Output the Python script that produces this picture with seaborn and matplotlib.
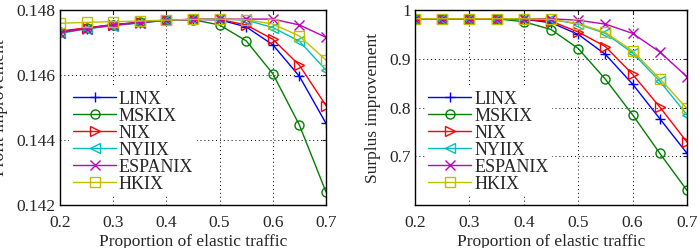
import numpy as np
import pandas as pd
import matplotlib
matplotlib.use("Agg")
import matplotlib.pyplot as plt
import seaborn as sns

x = [0.2, 0.25, 0.3, 0.35, 0.4, 0.45, 0.5, 0.55, 0.6, 0.65, 0.7]
series = ["LINX", "MSKIX", "NIX", "NYIIX", "ESPANIX", "HKIX"]

profit_linx    = [0.14733, 0.14743, 0.14754, 0.14761, 0.14769, 0.14771, 0.14770, 0.14748, 0.14693, 0.14596, 0.14451]
profit_mskix   = [0.14733, 0.14744, 0.14755, 0.14762, 0.14769, 0.14770, 0.14754, 0.14705, 0.14604, 0.14446, 0.14240]
profit_nix     = [0.14735, 0.14745, 0.14755, 0.14762, 0.14769, 0.14771, 0.14771, 0.14754, 0.14710, 0.14630, 0.14506]
profit_nyiix   = [0.14728, 0.14742, 0.14752, 0.14760, 0.14768, 0.14771, 0.14772, 0.14769, 0.14746, 0.14704, 0.14615]
profit_espanix = [0.14730, 0.14743, 0.14753, 0.14761, 0.14769, 0.14771, 0.14772, 0.14772, 0.14772, 0.14754, 0.14716]
profit_hkix    = [0.14759, 0.14762, 0.14764, 0.14766, 0.14769, 0.14771, 0.14772, 0.14770, 0.14757, 0.14720, 0.14646]

surplus_linx    = [0.982, 0.982, 0.982, 0.982, 0.981, 0.974, 0.950, 0.909, 0.848, 0.777, 0.706]
surplus_mskix   = [0.982, 0.982, 0.982, 0.982, 0.976, 0.960, 0.921, 0.858, 0.785, 0.706, 0.630]
surplus_nix     = [0.982, 0.982, 0.982, 0.982, 0.981, 0.977, 0.955, 0.925, 0.868, 0.801, 0.729]
surplus_nyiix   = [0.982, 0.982, 0.982, 0.982, 0.982, 0.981, 0.971, 0.952, 0.912, 0.854, 0.785]
surplus_espanix = [0.982, 0.982, 0.982, 0.982, 0.982, 0.982, 0.979, 0.971, 0.952, 0.914, 0.863]
surplus_hkix    = [0.982, 0.982, 0.982, 0.982, 0.982, 0.981, 0.972, 0.954, 0.916, 0.859, 0.798]

profit = [profit_linx, profit_mskix, profit_nix, profit_nyiix, profit_espanix, profit_hkix]
surplus = [surplus_linx, surplus_mskix, surplus_nix, surplus_nyiix, surplus_espanix, surplus_hkix]

colors = ["#0000ff", "#008000", "#ff0000", "#00bfbf", "#bf00bf", "#bfbf00"]
markers = ["+", "o", ">", "<", "x", "s"]

sns.set_style("white")
plt.rcParams["font.family"] = ["Liberation Serif", "DejaVu Serif"]
plt.rcParams["font.size"] = 12

fig = plt.figure(figsize=(7.0, 2.48), dpi=100)
ax1 = fig.add_axes([60/700, 1-205/248, 266/700, 195/248])
ax2 = fig.add_axes([415/700, 1-205/248, 272/700, 195/248])


def draw(ax, data):
    for name, vals, c, m in zip(series, data, colors, markers):
        df = pd.DataFrame({"x": x, "y": vals})
        kw = dict(marker=m, color=c, linewidth=1.0, markersize=6.5,
                  markeredgewidth=1.0, markeredgecolor=c, label=name)
        if m not in ("+", "x"):
            kw["markerfacecolor"] = "none"
        sns.lineplot(data=df, x="x", y="y", ax=ax, **kw)
    ax.set_xlim(0.2, 0.7)
    ax.set_xticks([0.2, 0.3, 0.4, 0.5, 0.6, 0.7])
    ax.set_xticklabels(["0.2", "0.3", "0.4", "0.5", "0.6", "0.7"])
    ax.grid(True, linestyle=(0, (1, 3)), color="black", linewidth=0.7)
    ax.tick_params(direction="in", length=3, top=True, right=True,
                   labelsize=12.5, width=0.8)
    ax.tick_params(axis="x", pad=7)
    ax.tick_params(axis="y", pad=3)
    for s in ax.spines.values():
        s.set_visible(True)
        s.set_color("black")
        s.set_linewidth(1.0)
    ax.set_xlabel("Proportion of elastic traffic", fontsize=12.5, labelpad=2)
    leg = ax.legend(loc="lower left", bbox_to_anchor=(0.035, 0.045), fontsize=13,
                    frameon=True, facecolor="white", edgecolor="none", framealpha=1,
                    handlelength=2.4, handletextpad=0.15, labelspacing=0.0,
                    borderpad=0.2, borderaxespad=0.0)
    leg.get_frame().set_linewidth(0)


draw(ax1, profit)
ax1.set_ylim(0.142, 0.148)
ax1.set_yticks([0.142, 0.144, 0.146, 0.148])
ax1.set_yticklabels(["0.142", "0.144", "0.146", "0.148"])
ax1.set_ylabel("Profit improvement", fontsize=12.5)
ax1.yaxis.set_label_coords(-0.195, 0.5)

draw(ax2, surplus)
ax2.set_ylim(0.6, 1.0)
ax2.set_yticks([0.7, 0.8, 0.9, 1.0])
ax2.set_yticklabels(["0.7", "0.8", "0.9", "1"])
ax2.set_ylabel("Surplus improvement", fontsize=12.5)
ax2.yaxis.set_label_coords(-0.125, 0.5)

fig.savefig("out.png", dpi=100)
